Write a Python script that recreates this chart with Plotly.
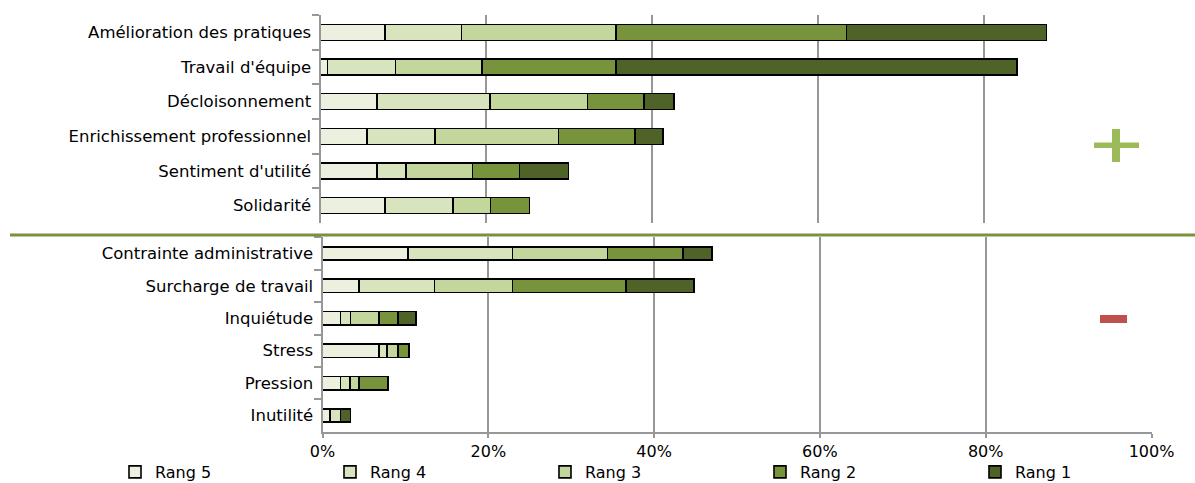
import plotly.graph_objects as go

W, H = 1195, 483

# Series names and fills (lightest = rank 5, darkest = rank 1)
rangs = ["Rang 5", "Rang 4", "Rang 3", "Rang 2", "Rang 1"]
colors = ["#EBF1DE", "#D7E4BD", "#C3D69B", "#77933C", "#4F6228"]

# Positive aspects (percent of respondents per rank)
pos_categories = ["Amélioration des pratiques", "Travail d'équipe", "Décloisonnement",
                  "Enrichissement professionnel", "Sentiment d'utilité", "Solidarité"]
pos_rang5 = [7.8, 0.85, 6.8, 5.6, 6.8, 7.8]
pos_rang4 = [9.2, 8.2, 13.6, 8.2, 3.5, 8.2]
pos_rang3 = [18.6, 10.45, 11.8, 14.9, 8.0, 4.5]
pos_rang2 = [27.8, 16.1, 6.8, 9.2, 5.7, 4.7]
pos_rang1 = [24.1, 48.4, 3.6, 3.4, 5.9, 0]

# Negative aspects
neg_categories = ["Contrainte administrative", "Surcharge de travail", "Inquiétude",
                  "Stress", "Pression", "Inutilité"]
neg_rang5 = [10.3, 4.4, 2.15, 6.85, 2.15, 0.9]
neg_rang4 = [12.6, 9.1, 1.25, 0.95, 1.2, 1.25]
neg_rang3 = [11.5, 9.4, 3.45, 1.3, 1.05, 0]
neg_rang2 = [9.1, 13.7, 2.25, 1.3, 3.5, 0]
neg_rang1 = [3.5, 8.2, 2.2, 0, 0, 1.25]

x_ticks = [0, 20, 40, 60, 80, 100]
x_ticktext = ["0%", "20%", "40%", "60%", "80%", "100%"]

pos_series = [pos_rang5, pos_rang4, pos_rang3, pos_rang2, pos_rang1]
neg_series = [neg_rang5, neg_rang4, neg_rang3, neg_rang2, neg_rang1]

FONT = "DejaVu Sans"
GRID = "#979797"


def px_x(p):
    return p / W


def px_y(p):
    return 1 - p / H


fig = go.Figure()

for name, col, vals in zip(rangs, colors, pos_series):
    fig.add_trace(go.Bar(
        y=pos_categories, x=vals, orientation="h", name=name, width=0.46,
        legendgroup=name, marker=dict(color=col, line=dict(color="#000000", width=1.6)),
        xaxis="x", yaxis="y", hoverinfo="skip",
    ))

for name, col, vals in zip(rangs, colors, neg_series):
    fig.add_trace(go.Bar(
        y=neg_categories, x=vals, orientation="h", name=name, width=0.41, showlegend=False,
        legendgroup=name, marker=dict(color=col, line=dict(color="#000000", width=1.6)),
        xaxis="x2", yaxis="y2", hoverinfo="skip",
    ))

axis_common = dict(
    range=[0, 100], tickvals=x_ticks, ticktext=x_ticktext,
    showgrid=True, gridcolor=GRID, gridwidth=2, zeroline=False,
    fixedrange=True,
)

yaxis_common = dict(
    autorange="reversed", showgrid=False, zeroline=False,
    showline=True, linecolor=GRID, linewidth=2,
    ticks="outside", tickson="boundaries", ticklen=7, tickcolor=GRID, tickwidth=1.5,
    tickfont=dict(family=FONT, size=16.5, color="#000000"),
    ticklabelstandoff=4, fixedrange=True,
)

fig.update_layout(
    width=W, height=H,
    margin=dict(l=0, r=0, t=0, b=0, autoexpand=False),
    paper_bgcolor="white", plot_bgcolor="white",
    barmode="stack",
    font=dict(family=FONT, size=16, color="#000000"),
    xaxis=dict(domain=[px_x(320.5), px_x(1150)], anchor="y",
               showticklabels=False, showline=False, ticks="", **axis_common),
    yaxis=dict(domain=[px_y(223), px_y(15)], anchor="x",
               categoryorder="array", categoryarray=pos_categories, **yaxis_common),
    xaxis2=dict(domain=[px_x(322.5), px_x(1151.5)], anchor="y2",
                showticklabels=True, showline=True, linecolor=GRID, linewidth=2,
                ticks="outside", ticklen=4, tickcolor=GRID, tickwidth=1.5,
                tickfont=dict(family=FONT, size=16, color="#000000"),
                **axis_common),
    yaxis2=dict(domain=[px_y(431.7), px_y(237.3)], anchor="x2",
                categoryorder="array", categoryarray=neg_categories, **yaxis_common),
    legend=dict(
        orientation="h", x=px_x(115), xanchor="left", y=px_y(472), yanchor="middle",
        font=dict(family=FONT, size=16, color="#000000"),
        traceorder="normal", entrywidth=170, itemwidth=30,
        bgcolor="rgba(0,0,0,0)",
    ),
    showlegend=True,
    shapes=[
        # separator between positive and negative blocks
        dict(type="line", xref="paper", yref="paper",
             x0=px_x(10), x1=1, y0=px_y(235), y1=px_y(235),
             line=dict(color="#77933C", width=3), layer="above"),
        # "+" sign
        dict(type="rect", xref="paper", yref="paper",
             x0=px_x(1094), x1=px_x(1139), y0=px_y(148), y1=px_y(142.5),
             fillcolor="#9BBB59", line=dict(width=0), layer="above"),
        dict(type="rect", xref="paper", yref="paper",
             x0=px_x(1112), x1=px_x(1120), y0=px_y(162), y1=px_y(129),
             fillcolor="#9BBB59", line=dict(width=0), layer="above"),
        # "-" sign
        dict(type="rect", xref="paper", yref="paper",
             x0=px_x(1100), x1=px_x(1127), y0=px_y(323), y1=px_y(315),
             fillcolor="#C0504D", line=dict(width=0), layer="above"),
    ],
)

fig.write_html("out.html")
